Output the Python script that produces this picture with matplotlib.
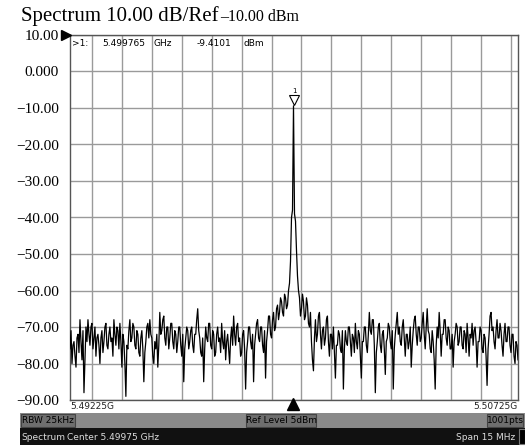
import numpy as np
import matplotlib
matplotlib.use("Agg")
import matplotlib.pyplot as plt
from matplotlib.patches import Rectangle
from matplotlib.transforms import offset_copy

# sweep settings (MHz)
f_start = 5492.25
f_stop = 5507.25
grid_mhz = list(range(5493, 5508))
y_ticks = list(range(-90, 11, 10))
y_labels = ["\u221290.00", "\u221280.00", "\u221270.00", "\u221260.00", "\u221250.00",
            "\u221240.00", "\u221230.00", "\u221220.00", "\u221210.00", "0.000", "10.00"]

# trace (dBm), one row per MHz division
trace_db = [
    -76, -71, -80, -75, -74, -78, -81, -73, -72, -77, -68, -74, -79, -71, -88,
    -79, -70, -74, -68, -72, -75, -70, -69, -76, -73, -70, -78, -73, -72, -75,
    -80, -73, -71, -77, -74, -70, -69, -75, -76, -72, -70, -74, -73, -78, -68,
    -72, -75, -70, -71, -76, -69, -74, -81, -72, -74, -80, -89, -75, -76, -71,
    -68, -74, -73, -69, -70, -75, -76, -71, -72, -77, -78, -73, -71, -76, -85,
    -77, -74, -70, -69, -73, -68, -72, -73, -78, -80, -74, -76, -72, -81, -75,
    -66, -72, -71, -68, -67, -73, -75, -70, -70, -76, -73, -69, -69, -74, -76,
    -71, -72, -77, -74, -70, -70, -75, -78, -72, -85, -76, -73, -70, -71, -76,
    -74, -71, -70, -75, -77, -72, -72, -68, -65, -71, -73, -77, -78, -73, -85,
    -76, -70, -73, -74, -69, -69, -75, -76, -71, -72, -78, -77, -72, -70, -74,
    -73, -77, -69, -74, -76, -71, -79, -74, -72, -76, -80, -73, -70, -75, -67,
    -72, -75, -70, -69, -74, -73, -78, -77, -72, -71, -76, -87, -77, -74, -70,
    -70, -74, -76, -72, -85, -75, -72, -69, -68, -73, -74, -70, -70, -75, -77,
    -71, -84, -74, -71, -67, -67, -72, -73, -68, -66, -71, -70, -65, -64, -68,
    -66, -62, -63, -66, -67, -61, -62, -65, -64, -60, -58, -52, -40, -38, -9.4,
    -39, -41, -49, -56, -60, -62, -67, -65, -61, -63, -68, -67, -62, -64, -69,
    -70, -66, -74, -79, -82, -73, -68, -74, -72, -67, -66, -72, -76, -71, -70,
    -75, -73, -68, -67, -74, -78, -72, -72, -76, -70, -77, -84, -75, -75, -71,
    -72, -76, -77, -71, -87, -76, -71, -74, -75, -70, -70, -74, -78, -72, -73,
    -77, -69, -74, -76, -71, -72, -78, -84, -74, -74, -70, -70, -75, -77, -72,
    -66, -71, -72, -68, -68, -75, -88, -77, -74, -70, -69, -75, -77, -72, -71,
    -76, -83, -74, -73, -69, -70, -74, -76, -71, -87, -76, -72, -69, -66, -72,
    -70, -74, -75, -70, -68, -73, -78, -72, -72, -76, -74, -70, -81, -75, -71,
    -68, -67, -72, -75, -70, -70, -74, -73, -69, -66, -72, -76, -70, -65, -71,
    -72, -76, -77, -71, -74, -79, -87, -75, -70, -73, -66, -71, -78, -72, -72,
    -68, -68, -73, -75, -70, -71, -76, -76, -72, -81, -74, -72, -69, -70, -75,
    -74, -70, -70, -75, -76, -71, -72, -77, -69, -73, -78, -72, -73, -69, -75,
    -71, -70, -74, -81, -74, -74, -70, -71, -76, -77, -72, -73, -78, -86, -76,
    -72, -67, -66, -71, -70, -74, -76, -71, -68, -73, -73, -69, -71, -75, -78,
    -72, -69, -74, -74, -70, -70, -75, -77, -72, -72, -78, -80, -74, -75, -79,
]

marker_f = 5499.765
marker_db = -9.4101

W, H = 525, 448


def fx(px):
    return px / W


def fy(py):
    return 1 - py / H


fig = plt.figure(figsize=(W / 100, H / 100), dpi=100)
ax = fig.add_axes([fx(70), fy(400), fx(518) - fx(70), fy(35) - fy(400)])

freqs = np.linspace(f_start, f_stop, len(trace_db))
ax.plot(freqs, trace_db, color="black", lw=0.9, zorder=3)

ax.set_xlim(f_start, f_stop)
ax.set_ylim(-90, 10)
ax.set_xticks(grid_mhz)
ax.set_yticks(y_ticks)
ax.set_yticklabels(y_labels, family="Liberation Serif", fontsize=11)
ax.tick_params(axis="x", length=0, labelbottom=False)
ax.tick_params(axis="y", length=0, pad=8)
ax.grid(color="#9a9a9a", lw=1)
ax.set_axisbelow(True)
for s in ax.spines.values():
    s.set_color("#555555")
    s.set_linewidth(1)

# marker 1 on the peak
tr = offset_copy(ax.transData, fig=fig, y=4, units="points")
ax.plot(marker_f, marker_db, marker="v", ms=7, mfc="white", mec="black",
        mew=0.8, transform=tr, zorder=4)
tr2 = offset_copy(ax.transData, fig=fig, y=11, units="points")
ax.text(marker_f, marker_db, "1", transform=tr2, fontsize=5, ha="center",
        va="center", zorder=4)

# marker readout
ro_y = fy(43)
fig.text(fx(72), ro_y, ">1:", fontsize=6.5, va="center")
fig.text(fx(102), ro_y, "5.499765", fontsize=6.5, va="center")
fig.text(fx(154), ro_y, "GHz", fontsize=6.5, va="center")
fig.text(fx(197), ro_y, "-9.4101", fontsize=6.5, va="center")
fig.text(fx(243), ro_y, "dBm", fontsize=6.5, va="center")

# reference level arrow
fig.add_artist(plt.Line2D([fx(66)], [fy(35)], marker=">", ms=7, color="black",
                          transform=fig.transFigure))

# title, second part set right after the first
t1 = fig.text(fx(21), fy(21), "Spectrum 10.00 dB/Ref", family="Liberation Serif",
              fontsize=15, va="baseline")
fig.canvas.draw()
bb = t1.get_window_extent()
fig.text(bb.x1 / W + 0.002, fy(21), "\u201310.00 dBm", family="Liberation Serif",
         fontsize=11.5, va="baseline")

# start / stop labels and center arrow
fig.text(fx(70), fy(406), "5.49225G", fontsize=6.5, va="center", color="#222222")
fig.text(fx(518), fy(406), "5.50725G", fontsize=6.5, va="center", ha="right",
         color="#222222")
fig.add_artist(plt.Line2D([fx(293)], [fy(404)], marker="^", ms=8, color="black",
                          transform=fig.transFigure))

# status bars
fig.add_artist(Rectangle((fx(20), fy(428)), fx(525) - fx(20), fy(413) - fy(428),
                         transform=fig.transFigure, color="#8a8a8a", lw=0))
for x0, x1, label in [(21, 75, "RBW 25kHz"), (246, 316, "Ref Level 5dBm"),
                      (487, 523, "1001pts")]:
    fig.add_artist(Rectangle((fx(x0), fy(427)), fx(x1) - fx(x0), fy(414) - fy(427),
                             transform=fig.transFigure, facecolor="#6e6e6e",
                             edgecolor="#444444", lw=0.8))
    fig.text((fx(x0) + fx(x1)) / 2, fy(420.5), label, fontsize=6.5,
             ha="center", va="center", color="black")

fig.add_artist(Rectangle((fx(20), fy(445)), fx(525) - fx(20), fy(428) - fy(445),
                         transform=fig.transFigure, color="#111111", lw=0))
fig.text(fx(21), fy(437), "Spectrum", fontsize=6.5, va="center", color="#dddddd")
fig.text(fx(67), fy(437), "Center 5.49975 GHz", fontsize=6.5, va="center",
         color="#dddddd")
fig.text(fx(515), fy(437), "Span 15 MHz", fontsize=6.5, va="center", ha="right",
         color="#dddddd")
fig.add_artist(Rectangle((fx(519), fy(444)), fx(525) - fx(519), fy(429) - fy(444),
                         transform=fig.transFigure, facecolor="black",
                         edgecolor="#777777", lw=0.8))

fig.savefig("out.png", dpi=100)
